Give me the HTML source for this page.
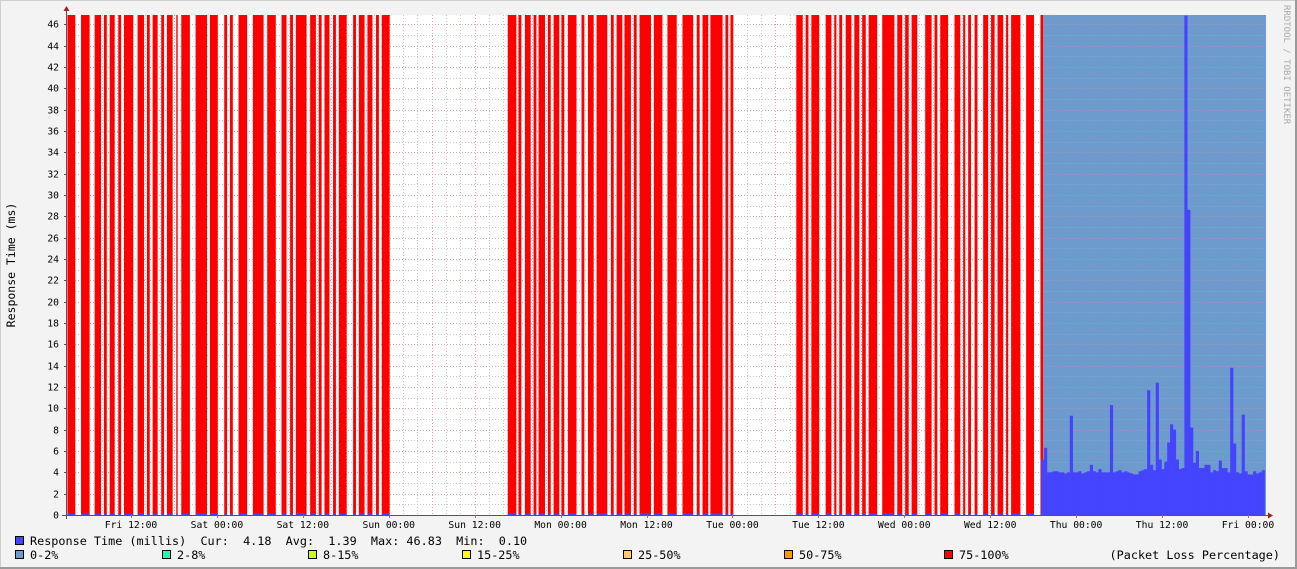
<!DOCTYPE html>
<html><head><meta charset="utf-8">
<style>
html,body{margin:0;padding:0;background:#f3f3f3;}
svg{display:block;font-family:"DejaVu Sans Mono","Liberation Mono",monospace;}
</style></head>
<body>
<svg id="chart" width="1297" height="569" viewBox="0 0 1297 569" xmlns="http://www.w3.org/2000/svg">
<rect x="0" y="0" width="1297" height="569" fill="#f3f3f3"/>
<rect x="0.5" y="0.5" width="1295" height="567" fill="none" stroke="#cfcfcf"/>
<line x1="1296" y1="0" x2="1296" y2="569" stroke="#9a9a9a" stroke-width="2"/>
<line x1="0" y1="568" x2="1297" y2="568" stroke="#9a9a9a" stroke-width="2"/>
<rect x="66" y="15" width="1200" height="500" fill="#ffffff"/>
<g id="grid"></g>
<g id="loss"></g>
<g id="resp"></g>
<g id="axes"></g>
<text transform="translate(15,265) rotate(-90)" text-anchor="middle" font-size="11.5" fill="#000">Response Time (ms)</text>
<text transform="translate(1284,5) rotate(90)" font-size="9" fill="#aaaaaa">RRDTOOL / TOBI OETIKER</text>
<g font-size="11.8" fill="#000">
 <g><rect x="15.5" y="536.5" width="8" height="8" fill="#4444ff" stroke="#000"/><text x="30" y="545" xml:space="preserve">Response Time (millis)  Cur:  4.18  Avg:  1.39  Max: 46.83  Min:  0.10</text></g>
 <g><rect x="15.5" y="550.5" width="8" height="8" fill="#6d9bce" stroke="#000"/><text x="30" y="559">0-2%</text></g>
 <g><rect x="162.5" y="550.5" width="8" height="8" fill="#2ff2b0" stroke="#000"/><text x="177" y="559">2-8%</text></g>
 <g><rect x="308.5" y="550.5" width="8" height="8" fill="#ccff00" stroke="#000"/><text x="323" y="559">8-15%</text></g>
 <g><rect x="462.5" y="550.5" width="8" height="8" fill="#ffff00" stroke="#000"/><text x="477" y="559">15-25%</text></g>
 <g><rect x="623.5" y="550.5" width="8" height="8" fill="#ffcc66" stroke="#000"/><text x="638" y="559">25-50%</text></g>
 <g><rect x="784.5" y="550.5" width="8" height="8" fill="#ff9900" stroke="#000"/><text x="799" y="559">50-75%</text></g>
 <g><rect x="944.5" y="550.5" width="8" height="8" fill="#ff0000" stroke="#000"/><text x="959" y="559">75-100%</text></g>
 <text x="1280" y="559" text-anchor="end">(Packet Loss Percentage)</text>
</g>
</svg>
<script>
// ---- data (hours from graph start) ----
const lossHighIntervals = [[0.2,1.3],[2.1,3.3],[4.0,4.9],[5.3,5.7],[6.1,6.8],[7.3,7.7],[8.1,9.4],[10.0,10.9],[11.3,11.7],[12.1,12.8],[13.3,13.7],[14.1,14.9],[15.4,15.6],[16.1,17.3],[18.1,19.7],[20.1,21.2],[22.1,22.5],[22.9,23.3],[24.1,25.3],[26.1,27.6],[28.1,29.3],[30.1,30.8],[31.3,31.7],[32.1,33.6],[34.1,34.9],[35.3,35.7],[36.1,36.8],[37.3,37.7],[38.1,39.2],[40.1,40.5],[40.9,41.7],[42.1,42.8],[43.3,43.7],[44.1,45.2],
[61.7,62.9],[63.2,63.6],[64.1,64.9],[65.3,65.7],[66.0,66.9],[67.3,67.7],[68.1,68.9],[69.2,69.6],[70.1,71.3],[72.0,72.4],[72.9,73.7],[74.1,75.6],[76.1,76.5],[76.9,77.7],[78.0,78.9],[79.3,79.7],[80.1,81.7],[82.1,83.3],[84.0,85.3],[86.1,87.6],[88.1,88.5],[88.9,89.7],[90.0,91.7],[92.1,92.5],[92.8,93.2],
[102.0,102.9],[103.3,103.7],[104.1,105.2],[106.1,106.9],[107.3,107.6],[108.0,108.4],[108.9,109.7],[110.1,110.8],[111.2,111.7],[112.1,113.3],[114.0,115.7],[116.1,116.8],[117.2,117.7],[118.1,118.9],[120.0,120.9],[121.3,121.7],[122.1,123.2],[124.1,124.9],[125.3,125.6],[126.0,126.4],[126.9,127.3],[128.1,128.8],[129.2,129.7],[130.1,130.9],[131.3,131.6],[132.0,133.3],[134.1,135.2],[136.1,136.5]];
const lossLowIntervals = [[136.5,167.6]];
const respStart = 136.2;
const respStep = 0.4;
const respValues = [5.2,6.3,4.0,4.0,4.1,4.1,4.0,4.0,3.9,4.0,9.3,4.0,4.0,4.1,3.9,4.0,4.1,4.7,4.1,4.0,4.3,4.0,4.0,4.0,10.3,4.0,4.1,4.2,4.0,4.1,4.0,3.9,3.8,3.8,4.1,4.2,4.3,11.7,4.7,4.2,12.4,5.2,4.3,5.0,6.8,8.5,8.0,5.2,4.3,4.4,46.8,28.6,8.2,4.9,6.0,4.4,4.4,4.7,4.7,4.0,4.2,4.1,5.1,4.4,4.4,4.0,13.8,6.7,4.0,3.9,9.4,4.1,3.8,3.8,4.1,3.9,4.0,4.2];
const baseResponse = 0.15;
const xTickLabels = ["Fri 12:00","Sat 00:00","Sat 12:00","Sun 00:00","Sun 12:00","Mon 00:00","Mon 12:00","Tue 00:00","Tue 12:00","Wed 00:00","Wed 12:00","Thu 00:00","Thu 12:00","Fri 00:00"];
const firstLabelHour = 9.08;
const yTickValues = [0,2,4,6,8,10,12,14,16,18,20,22,24,26,28,30,32,34,36,38,40,42,44,46];

// ---- scales ----
const X0=66, X1=1266, Y0=515, Y1=15, HMAX=167.6, VMAX=46.86;
const xs = h => X0 + h*(X1-X0)/HMAX;
const ys = v => Y0 - v*(Y0-Y1)/VMAX;
const NS="http://www.w3.org/2000/svg";
function mk(tag, attrs, parent){const e=document.createElementNS(NS,tag);for(const k in attrs)e.setAttribute(k,attrs[k]);parent.appendChild(e);return e;}
const grid=document.getElementById('grid'), loss=document.getElementById('loss'), resp=document.getElementById('resp'), axes=document.getElementById('axes');

for(let v=1; v<=46; v++){
  const y=Math.round(ys(v))+0.5;
  const major = v%2===0;
  const l=mk('line',{x1:X0,x2:X1,y1:y,y2:y,stroke:major?'#e8a0a0':'#c8c8c8','stroke-width':1,'stroke-dasharray':'1,2'},grid);
  
  
}
for(let k=-6;k<=100;k++){
  const h=firstLabelHour+2*k; if(h<=0||h>=HMAX) continue;
  const x=Math.round(xs(h))+0.5;
  const major=(k%3===0);
  const l=mk('line',{x1:x,x2:x,y1:Y1,y2:Y0,stroke:major?'#e8a0a0':'#c8c8c8','stroke-width':1,'stroke-dasharray':'1,2'},grid);
  
  
}
lossHighIntervals.forEach(iv=>{
  const r=mk('rect',{x:xs(iv[0]),y:Y1,width:xs(iv[1])-xs(iv[0]),height:Y0-Y1,fill:'#ff0000'},loss);
  
  
});
lossLowIntervals.forEach(iv=>{
  const r=mk('rect',{x:xs(iv[0]),y:Y1,width:xs(iv[1])-xs(iv[0]),height:Y0-Y1,fill:'#6d9bce'},loss);
  
  
});
for(let v=1; v<=46; v++){
  const y=Math.round(ys(v))+0.5;
  const l=mk('line',{x1:xs(lossLowIntervals[0][0]),x2:X1,y1:y,y2:y,stroke:v%2===0?'#c88aa8':'#8aa8c8','stroke-width':1,'stroke-dasharray':'1,2'},loss);
  
  
}
lossHighIntervals.forEach(iv=>{
  const r=mk('rect',{x:xs(iv[0]),y:ys(baseResponse),width:xs(iv[1])-xs(iv[0]),height:Y0-ys(baseResponse),fill:'#4444ff'},resp);
  
  
});
respValues.forEach((v,i)=>{
  const a=xs(respStart+i*respStep), b=xs(respStart+(i+1)*respStep);
  const r=mk('rect',{x:a,y:ys(v),width:Math.min(b,X1)-a+0.3,height:Y0-ys(v),fill:'#4444ff'},resp);
  
  
});
const ax=mk('line',{x1:X0-4,x2:X1+4,y1:Y0+0.5,y2:Y0+0.5,stroke:'#555','stroke-width':1},axes);


const ay=mk('line',{x1:X0+0.5,x2:X0+0.5,y1:Y1-5,y2:Y0+4,stroke:'#555','stroke-width':1},axes);


const arx=mk('polygon',{points:`${X1+2},${Y0-2.5} ${X1+2},${Y0+3.5} ${X1+7},${Y0+0.5}`,fill:'#a02020'},axes);


const ary=mk('polygon',{points:`${X0-2.5},${Y1-4} ${X0+3.5},${Y1-4} ${X0+0.5},${Y1-9}`,fill:'#a02020'},axes);


yTickValues.forEach(v=>{
  const y=Math.round(ys(v));
  const t=mk('text',{x:59,y:y+3.5,'text-anchor':'end','font-size':'9.7',fill:'#000'},axes);
  t.textContent=v;
  
  
  const tk=mk('line',{x1:X0-2,x2:X0,y1:y+0.5,y2:y+0.5,stroke:'#555'},axes);
  
  
});
xTickLabels.forEach((s,i)=>{
  const x=xs(firstLabelHour+12*i);
  const t=mk('text',{x:x,y:528,'text-anchor':'middle','font-size':'9.7',fill:'#000'},axes);
  t.textContent=s;
  
  
  const tk=mk('line',{x1:Math.round(x)+0.5,x2:Math.round(x)+0.5,y1:Y0,y2:Y0+3,stroke:'#c06060'},axes);
  
  
});
</script>
</body></html>
